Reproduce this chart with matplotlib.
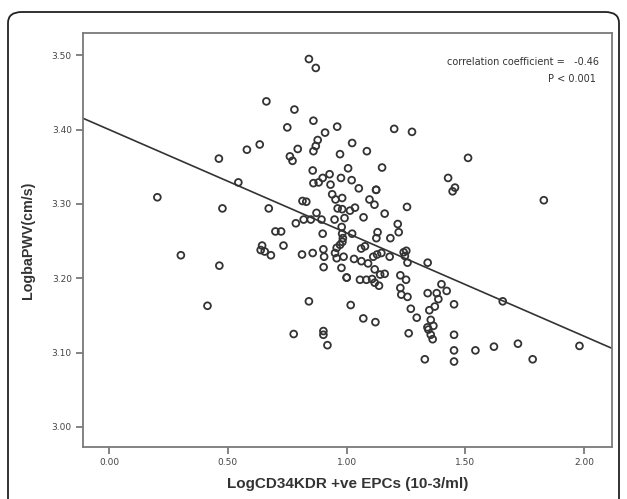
import matplotlib
matplotlib.use("Agg")
import matplotlib.pyplot as plt
from matplotlib.patches import FancyBboxPatch
import numpy as np

# LogCD34KDR +ve EPCs values
log_epcs = [
    0.203, 0.302, 0.414, 0.462, 0.464, 0.477, 0.544, 0.580, 0.634, 0.662,
    0.672, 0.700, 0.724, 0.638, 0.644, 0.655, 0.681, 0.734, 0.750, 0.780,
    0.761, 0.772, 0.794, 0.786, 0.777, 0.841, 0.870, 0.860, 0.814, 0.830,
    0.819, 0.849, 0.873, 0.857, 0.860, 0.860, 0.870, 0.878, 0.812, 0.857,
    0.841, 0.902, 0.902, 0.919, 0.899, 0.894, 0.902, 0.905, 0.903, 0.960,
    0.909, 0.972, 0.928, 0.899, 0.882, 0.932, 0.976, 0.939, 0.953, 0.981,
    1.021, 1.051, 1.124, 1.124, 1.096, 1.117, 1.014, 1.035, 0.962, 0.981,
    1.160, 1.254, 1.071, 0.949, 0.991, 1.215, 0.979, 0.981, 1.023, 1.130,
    1.219, 1.125, 1.184, 0.984, 0.958, 0.972, 0.951, 0.958, 0.987, 0.978,
    1.031, 1.062, 1.090, 1.061, 1.077, 1.112, 1.128, 1.146, 1.181, 1.240,
    1.251, 1.245, 1.256, 1.341, 1.000, 1.000, 1.056, 1.083, 1.107, 1.118,
    1.136, 1.118, 1.141, 1.160, 1.226, 1.250, 1.226, 1.230, 1.256, 1.341,
    1.379, 1.399, 1.421, 1.386, 1.371, 1.348, 1.270, 1.295, 1.017, 1.070,
    1.121, 1.452, 1.354, 1.365, 1.340, 1.344, 1.354, 1.362, 1.261, 1.452,
    1.329, 1.452, 1.452, 1.542, 1.620, 1.721, 1.783, 1.980, 1.657, 1.830,
    1.427, 1.456, 1.446, 1.511, 1.200, 1.275, 1.023, 1.085, 1.006, 1.149,
    0.982,
]

# LogbaPWV values
log_bapwv = [
    3.309, 3.231, 3.163, 3.361, 3.217, 3.294, 3.329, 3.373, 3.380, 3.438,
    3.294, 3.263, 3.263, 3.238, 3.244, 3.236, 3.231, 3.244, 3.403, 3.427,
    3.364, 3.358, 3.374, 3.274, 3.125, 3.495, 3.483, 3.412, 3.304, 3.303,
    3.279, 3.279, 3.288, 3.345, 3.328, 3.371, 3.378, 3.386, 3.232, 3.234,
    3.169, 3.129, 3.124, 3.110, 3.260, 3.279, 3.239, 3.229, 3.215, 3.404,
    3.396, 3.367, 3.340, 3.335, 3.329, 3.326, 3.335, 3.313, 3.306, 3.308,
    3.332, 3.321, 3.319, 3.319, 3.306, 3.299, 3.291, 3.295, 3.294, 3.293,
    3.287, 3.296, 3.282, 3.279, 3.281, 3.273, 3.269, 3.260, 3.260, 3.262,
    3.262, 3.254, 3.254, 3.254, 3.241, 3.245, 3.234, 3.227, 3.229, 3.214,
    3.226, 3.223, 3.220, 3.240, 3.243, 3.229, 3.232, 3.234, 3.229, 3.235,
    3.237, 3.230, 3.221, 3.221, 3.201, 3.201, 3.198, 3.198, 3.199, 3.194,
    3.190, 3.212, 3.205, 3.206, 3.204, 3.198, 3.187, 3.178, 3.175, 3.180,
    3.180, 3.192, 3.183, 3.172, 3.162, 3.157, 3.159, 3.147, 3.164, 3.146,
    3.141, 3.165, 3.144, 3.136, 3.134, 3.131, 3.124, 3.118, 3.126, 3.124,
    3.091, 3.088, 3.103, 3.103, 3.108, 3.112, 3.091, 3.109, 3.169, 3.305,
    3.335, 3.322, 3.317, 3.362, 3.401, 3.397, 3.382, 3.371, 3.348, 3.349,
    3.249,
]

# fitted line as drawn on the chart
fit_intercept = 3.400
fit_slope = -0.139

x_ticks = [0.0, 0.5, 1.0, 1.5, 2.0]
y_ticks = [3.0, 3.1, 3.2, 3.3, 3.4, 3.5]

axis_gray = "#7a7a7a"
text_gray = "#444444"
narrow = ["Liberation Sans Narrow", "DejaVu Sans"]
arial = ["Liberation Sans", "DejaVu Sans"]

fig = plt.figure(figsize=(6.27, 4.99), dpi=100)
fig.patch.set_facecolor("white")

# outer rounded panel border
panel = FancyBboxPatch((8 / 627, -0.05), 611 / 627, 1 - 12 / 499 + 0.05,
                       boxstyle="round,pad=0,rounding_size=0.022",
                       transform=fig.transFigure, facecolor="none",
                       edgecolor="#222222", linewidth=1.3, clip_on=False)
fig.patches.append(panel)

ax = fig.add_axes([83 / 627, 1 - 447 / 499, (612 - 83) / 627, (447 - 33) / 499])

ax.scatter(log_epcs, log_bapwv, s=24, facecolors="none",
           edgecolors="#333333", linewidths=1.3, zorder=3)

xmin, xmax = -0.11, 2.117
xs = np.array([xmin, xmax])
ax.plot(xs, fit_intercept + fit_slope * xs, color="#333333", lw=1.2, zorder=2)

ax.set_xlim(xmin, xmax)
ax.set_ylim(2.973, 3.530)
ax.set_xticks(x_ticks)
ax.set_xticklabels(["%.2f" % v for v in x_ticks])
ax.set_yticks(y_ticks)
ax.set_yticklabels(["%.2f" % v for v in y_ticks])

for side in ax.spines.values():
    side.set_color(axis_gray)
    side.set_linewidth(1.3)

ax.tick_params(direction="out", length=5, width=1.3, color=axis_gray,
               labelsize=6.5, labelcolor=text_gray, pad=3)
for lab in ax.get_xticklabels() + ax.get_yticklabels():
    lab.set_family(narrow)

ax.set_xlabel("LogCD34KDR +ve EPCs (10-3/ml)", fontsize=11, fontweight="bold",
              color="#333333", labelpad=7, family=arial)
ax.set_ylabel("LogbaPWV(cm/s)", fontsize=10.3, fontweight="bold",
              color="#333333", labelpad=12, family=arial)

ax.text(0.975, 0.93, "correlation coefficient =   -0.46", transform=ax.transAxes,
        ha="right", va="center", fontsize=7, color="#333333", family=narrow)
ax.text(0.97, 0.89, "P < 0.001", transform=ax.transAxes,
        ha="right", va="center", fontsize=7, color="#333333", family=narrow)

fig.savefig("out.png", dpi=100)
